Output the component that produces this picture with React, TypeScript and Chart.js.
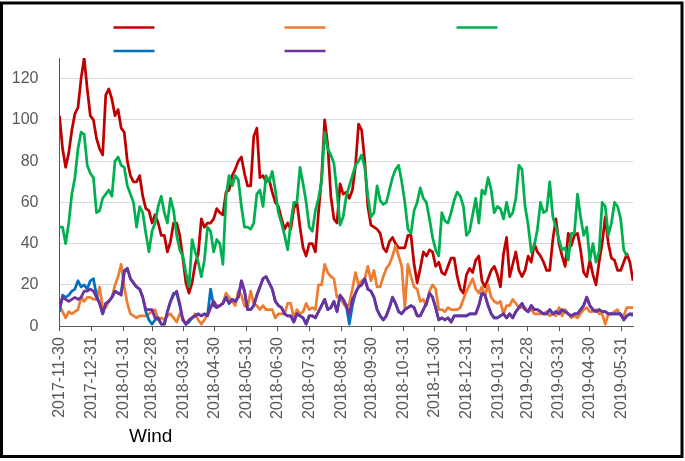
import React, { useEffect, useRef } from 'react';
import { Chart, registerables } from 'chart.js';

Chart.register(...registerables);

// ---- data ----
const START_DATE = '2017-11-30';
const STEP_DAYS = 3; // one reading every 3 days
const END_DAY = 558;

const tickLabels = [
  '2017-11-30', '2017-12-31', '2018-01-31', '2018-02-28', '2018-03-31', '2018-04-30',
  '2018-05-31', '2018-06-30', '2018-07-31', '2018-08-31', '2018-09-30', '2018-10-31',
  '2018-11-30', '2018-12-31', '2019-01-31', '2019-02-28', '2019-03-31', '2019-04-30',
  '2019-05-31',
];

const seriesColors = ['#C00000', '#ED7D31', '#00B050', '#0070C0', '#7030A0'];
const titleText = 'Wind';

const redValues = [
  102, 86, 77, 84, 95, 103, 106, 120, 130, 115, 102, 100, 91, 86, 83, 112, 115, 110, 102, 105, 96, 94, 80, 73, 70, 70, 73, 63, 57, 56, 50, 54, 50, 44, 44, 36, 41, 50, 50, 44, 33, 21, 16, 21, 30, 35, 52, 48,
  50, 50, 52, 57, 55, 54, 65, 66, 73, 76, 80, 82, 74, 68, 68, 92, 96, 72, 73, 70, 71, 65, 60, 58, 52, 47, 50, 47, 57, 60, 48, 38, 34, 40, 40, 36, 55, 72, 100, 88, 63, 52, 50, 69, 64, 65,
  62, 66, 78, 98, 95, 80, 58, 49, 48, 47, 45, 38, 36, 41, 43, 40, 38, 38, 38, 44, 44, 30, 21, 28, 36, 34, 37, 36, 29, 31, 26, 25, 29, 33, 33, 24, 18, 16, 25, 28, 26, 32, 34, 22, 19, 23, 27,
  29, 25, 19, 35, 43, 24, 30, 36, 27, 24, 27, 34, 31, 40, 36, 34, 31, 27, 27, 42, 52, 40, 34, 29, 45, 39, 44, 45, 37, 26, 24, 32, 25, 20, 31, 40, 53, 40, 33, 32, 27, 27, 31, 35, 31, 22,
];

const orangeValues = [
  10, 7, 4, 7, 6, 7, 8, 14, 12, 14, 14, 13, 13, 19, 9, 9, 12, 14, 20, 24, 30, 19, 11, 6, 5, 4, 5, 5, 5, 6, 7, 8, 3, 4, 3, 5, 6, 4, 2, 6, 4, 1, 3, 4, 6, 3, 1, 3,
  6, 9, 12, 10, 10, 11, 16, 14, 12, 10, 17, 15, 10, 9, 17, 11, 10, 8, 10, 8, 8, 8, 4, 6, 6, 6, 11, 11, 4, 8, 6, 7, 11, 8, 9, 8, 20, 20, 30, 26, 24, 23, 14, 14, 11, 9,
  11, 18, 26, 20, 22, 23, 29, 22, 27, 19, 19, 24, 28, 30, 34, 39, 34, 29, 9, 30, 24, 19, 18, 12, 13, 10, 17, 20, 18, 8, 8, 7, 9, 8, 8, 8, 9, 13, 17, 20, 23, 18, 16, 19, 15, 20, 14,
  12, 11, 12, 6, 10, 10, 13, 11, 9, 9, 9, 7, 8, 6, 6, 6, 6, 7, 5, 6, 5, 9, 5, 8, 6, 4, 5, 4, 6, 8, 9, 7, 7, 8, 6, 6, 1, 6, 6, 7, 8, 5, 5, 9, 9, 9,
];

const greenValues = [
  48, 48, 40, 50, 64, 72, 86, 94, 93, 78, 74, 72, 55, 56, 62, 64, 66, 63, 80, 82, 78, 77, 68, 64, 60, 48, 58, 55, 45, 36, 46, 50, 58, 63, 55, 50, 62, 56, 44, 37, 34, 26, 19, 42, 36, 31, 24, 32,
  48, 46, 36, 42, 40, 30, 63, 73, 68, 73, 71, 58, 48, 48, 47, 50, 64, 66, 58, 73, 70, 75, 66, 55, 50, 44, 37, 50, 60, 60, 77, 69, 60, 48, 46, 56, 62, 70, 94, 86, 83, 79, 65, 49, 53, 63,
  68, 73, 78, 80, 83, 77, 63, 53, 55, 68, 61, 59, 60, 66, 72, 76, 78, 70, 60, 47, 45, 56, 60, 67, 62, 60, 52, 43, 37, 34, 55, 51, 50, 55, 61, 65, 63, 58, 44, 46, 54, 62, 50, 66, 64, 72, 66,
  55, 58, 57, 52, 60, 53, 55, 62, 78, 76, 58, 49, 36, 39, 47, 60, 55, 56, 70, 53, 48, 42, 37, 38, 32, 45, 45, 64, 53, 44, 48, 32, 40, 31, 36, 60, 58, 44, 50, 60, 58, 52, 37, 34, null, null,
];

const blueValues = [
  7, 15, 14, 15, 17, 18, 22, 19, 20, 18, 22, 23, 15, 11, 6, 11, 12, 14, 17, 16, 16, 27, 28, 23, 21, 19, 18, 14, 7, 3, 1, 3, 4, 1, 1, 7, 12, 16, 16, 10, 3, 1, 2, 4, 5, 6, 5, 6,
  5, 18, 10, 9, 10, 11, 14, 11, 13, 12, 14, 22, 17, 8, 8, 10, 15, 19, 23, 24, 21, 18, 12, 10, 9, 6, 5, 5, 2, 6, 5, 4, 1, 5, 5, 4, 7, 10, 13, 8, 9, 12, 7, 15, 13, 10,
  1, 10, 16, 19, 20, 23, 18, 17, 14, 8, 5, 3, 5, 9, 14, 11, 7, 6, 8, 9, 10, 9, 5, 5, 8, 11, 16, 14, 9, 3, 4, 3, 4, 2, 5, 5, 5, 5, 5, 6, 6, 6, 10, 16, 15, 10, 6,
  4, 4, 5, 6, 4, 6, 4, 7, 9, 11, 8, 7, 10, 8, 8, 7, 6, 6, 8, 6, 7, 6, 8, 7, 6, 5, 6, 6, 8, 10, 14, 10, 8, 7, 8, 7, 7, 6, 6, 6, 6, 6, 3, 5, 6, 5,
];

const purpleValues = [
  9, 14, 13, 12, 13, 14, 13, 14, 17, 17, 18, 17, 14, 11, 6, 11, 12, 14, 17, 16, 15, 26, 28, 23, 21, 19, 18, 14, 8, 8, 8, 4, 4, 1, 1, 7, 12, 15, 17, 11, 3, 1, 3, 4, 5, 6, 5, 6,
  5, 9, 12, 9, 10, 11, 14, 11, 13, 12, 14, 22, 17, 8, 8, 10, 15, 19, 23, 24, 21, 18, 12, 10, 9, 6, 5, 5, 2, 6, 5, 4, 1, 5, 5, 4, 7, 10, 13, 8, 9, 12, 7, 15, 13, 10,
  6, 13, 16, 19, 20, 23, 18, 17, 14, 8, 5, 3, 5, 9, 14, 11, 7, 6, 8, 9, 10, 9, 5, 5, 8, 11, 16, 14, 9, 3, 4, 3, 4, 2, 5, 5, 5, 5, 5, 6, 6, 6, 10, 16, 15, 10, 6,
  4, 4, 5, 6, 4, 6, 4, 7, 9, 11, 8, 7, 10, 8, 8, 7, 6, 6, 8, 6, 7, 6, 8, 7, 6, 5, 6, 6, 8, 10, 14, 10, 8, 7, 8, 7, 7, 6, 6, 6, 6, 6, 3, 5, 6, 6,
];

const seriesValues = [redValues, orangeValues, greenValues, blueValues, purpleValues];

// ---- helpers ----
function dayOffset(date: string): number {
  const [y, m, d] = date.split('-').map(Number);
  const [y0, m0, d0] = START_DATE.split('-').map(Number);
  return Math.round((Date.UTC(y, m - 1, d) - Date.UTC(y0, m0 - 1, d0)) / 86400000);
}

const tickDays = tickLabels.map(dayOffset);
const FONT = '"Liberation Sans", Arial, sans-serif';
const AXIS_GREY = '#595959';

const decorPlugin = {
  id: 'decor',
  afterDraw(chart: any) {
    const ctx = chart.ctx;
    ctx.save();
    // legend swatches (legend text is blank in the reference)
    const slots = [[113.5, 27.5], [284.5, 27.5], [456.5, 27.5], [113.5, 51], [284.5, 51]];
    chart.data.datasets.forEach((ds: any, i: number) => {
      const [x, y] = slots[i];
      ctx.strokeStyle = ds.borderColor;
      ctx.lineWidth = 2.5;
      ctx.lineCap = 'butt';
      ctx.beginPath();
      ctx.moveTo(x, y);
      ctx.lineTo(x + 41, y);
      ctx.stroke();
    });
    // caption
    ctx.fillStyle = '#000000';
    ctx.font = '19px ' + FONT;
    ctx.textBaseline = 'alphabetic';
    ctx.textAlign = 'left';
    ctx.fillText(titleText, 129, 441.5);
    // outer frame
    ctx.strokeStyle = '#000000';
    ctx.lineWidth = 3;
    ctx.strokeRect(1.5, 3, 680.5, 453.5);
    ctx.restore();
  },
};

export default function App() {
  const canvasRef = useRef<HTMLCanvasElement | null>(null);

  useEffect(() => {
    document.body.style.margin = '0';
    const canvas = canvasRef.current;
    if (!canvas) return;

    const datasets = seriesValues.map((vals, i) => ({
      label: '',
      data: vals.map((v, k) => ({ x: k * STEP_DAYS, y: v })),
      borderColor: seriesColors[i],
      backgroundColor: seriesColors[i],
      borderWidth: 2.75,
      pointRadius: 0,
      pointHoverRadius: 0,
      tension: 0,
      fill: false,
      spanGaps: false,
      borderJoinStyle: 'round' as const,
      order: seriesValues.length - i,
    }));

    const chart = new Chart(canvas, {
      type: 'line',
      data: { datasets },
      plugins: [decorPlugin],
      options: {
        animation: false,
        responsive: false,
        maintainAspectRatio: false,
        layout: { padding: { left: 12, top: 58, right: 52, bottom: 36 } },
        plugins: {
          legend: { display: false },
          tooltip: { enabled: false },
          title: { display: false },
        },
        scales: {
          x: {
            type: 'linear',
            min: 0,
            max: END_DAY,
            afterBuildTicks: (axis: any) => {
              axis.ticks = tickDays.map((v) => ({ value: v }));
            },
            afterFit: (axis: any) => {
              axis.paddingLeft = 0;
              axis.paddingRight = 0;
            },
            ticks: {
              autoSkip: false,
              maxRotation: 90,
              minRotation: 90,
              padding: 6,
              color: AXIS_GREY,
              font: { family: FONT, size: 16 },
              callback: (value: any) => {
                const idx = tickDays.indexOf(Number(value));
                return idx >= 0 ? tickLabels[idx] : '';
              },
            },
            grid: {
              drawOnChartArea: false,
              drawTicks: true,
              tickLength: 5,
              color: AXIS_GREY,
              lineWidth: 1,
            },
            border: { display: true, color: AXIS_GREY, width: 1 },
          },
          y: {
            type: 'linear',
            min: 0,
            max: 130,
            afterBuildTicks: (axis: any) => {
              axis.ticks = axis.ticks.filter((t: any) => t.value <= 120);
            },
            afterFit: (axis: any) => {
              axis.width = 47.5;
              axis.paddingTop = 0;
              axis.paddingBottom = 0;
            },
            ticks: {
              stepSize: 20,
              padding: 21,
              color: AXIS_GREY,
              font: { family: FONT, size: 16 },
            },
            grid: {
              drawTicks: false,
              color: (c: any) => (c.tick && c.tick.value === 0 ? 'rgba(0,0,0,0)' : '#D9D9D9'),
              lineWidth: 1,
            },
            border: { display: true, color: AXIS_GREY, width: 1 },
          },
        },
      },
    });

    return () => {
      chart.destroy();
    };
  }, []);

  return (
    <div style={{ width: 685, height: 461, position: 'relative', background: '#ffffff' }}>
      <canvas ref={canvasRef} width={685} height={461} style={{ display: 'block' }} />
    </div>
  );
}
